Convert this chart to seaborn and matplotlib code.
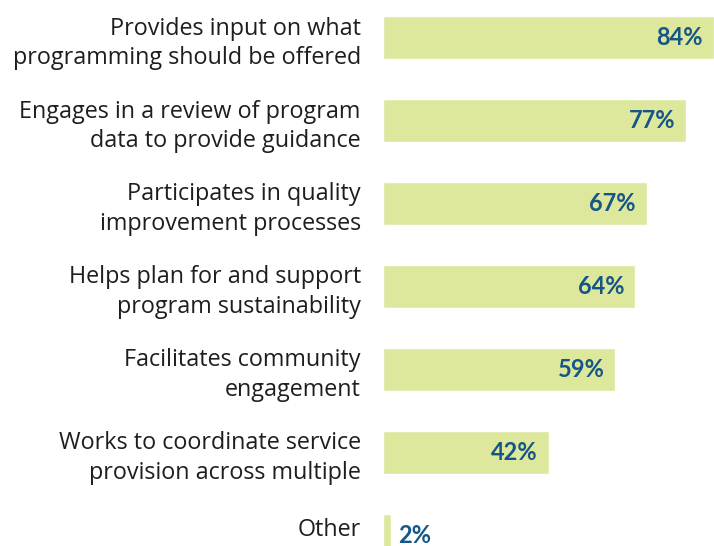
import matplotlib
matplotlib.use("Agg")
import matplotlib.pyplot as plt
import matplotlib.transforms as mtransforms
import seaborn as sns
import pandas as pd

categories = [
    "Provides input on what\nprogramming should be offered",
    "Engages in a review of program\ndata to provide guidance",
    "Participates in quality\nimprovement processes",
    "Helps plan for and support\nprogram sustainability",
    "Facilitates community\nengagement",
    "Works to coordinate service\nprovision across multiple",
    "Other",
]
values = [84, 77, 67, 64, 59, 42, 2]
value_labels = ["84%", "77%", "67%", "64%", "59%", "42%", "2%"]

BAR_COLOR = "#dde89d"
LABEL_COLOR = "#155687"

sns.set_theme(style="white")
plt.rcParams["font.family"] = ["Lato", "DejaVu Sans"]

df = pd.DataFrame({"category": categories, "value": values})

fig = plt.figure(figsize=(7.14, 5.46), dpi=100)
ax = fig.add_axes([383 / 714, 0, 331 / 714, 1])

sns.barplot(data=df, x="value", y="category", orient="h", color=BAR_COLOR,
            saturation=1, width=0.52, ax=ax)

ax.set_xlim(0, 84)
ax.set_ylim(6.127, -0.452)
ax.set_xlabel("")
ax.set_ylabel("")
ax.set_xticks([])
for s in ax.spines.values():
    s.set_visible(False)
ax.tick_params(axis="y", length=0, pad=16, labelcolor="#1e1e1e")
for t in ax.get_yticklabels():
    t.set_fontfamily(["Open Sans", "DejaVu Sans"])
    t.set_fontsize(16.8)
    t.set_linespacing(1.3)
# the single-line last label sits a little higher than its bar
last = ax.get_yticklabels()[-1]
last.set_transform(last.get_transform() +
                   mtransforms.ScaledTranslation(0, 6 / 72, fig.dpi_scale_trans))

for i, (v, lab) in enumerate(zip(values, value_labels)):
    if v > 10:
        ax.annotate(lab, xy=(v, i), xytext=(-8, 0), textcoords="offset points",
                    ha="right", va="center", fontsize=17, fontweight="bold",
                    color=LABEL_COLOR)
    else:
        ax.annotate(lab, xy=(v, i), xytext=(5, 0), textcoords="offset points",
                    ha="left", va="center", fontsize=17, fontweight="bold",
                    color=LABEL_COLOR)

fig.savefig("out.png", dpi=100)
